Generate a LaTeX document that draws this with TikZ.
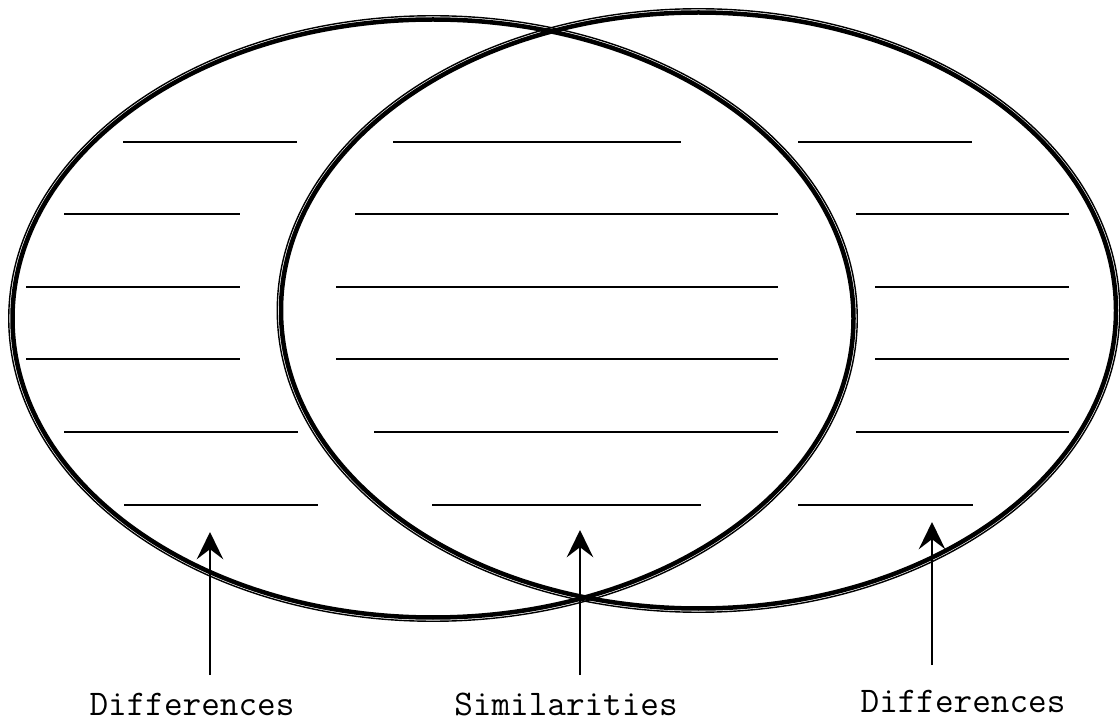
\documentclass[tikz,border=0pt]{standalone}
\usepackage{fontspec}
\usepackage{tikz}
\usetikzlibrary{arrows.meta}

\begin{document}
\begin{tikzpicture}[x=0.025cm,y=-0.025cm,>={Stealth[length=0.68cm,width=0.66cm,inset=0.25cm]},
  every node/.style={font=\ttfamily\fontsize{25.7}{30}\selectfont,inner sep=0pt,anchor=base},
  rimthin/.style={line width=1pt},
  rimthick/.style={line width=3.2pt},
  blank/.style={line width=1.4pt},
  pointer/.style={->,line width=1.7pt}]
  \useasboundingbox (0,0) rectangle (1120,721);
  % left set
  \draw[rimthin] (433,318.5) ellipse [x radius=424.25, y radius=302.75];
  \draw[rimthick] (433,318.5) ellipse [x radius=420.5, y radius=299];
  % right set
  \draw[rimthin] (698.5,310.5) ellipse [x radius=421.25, y radius=301.75];
  \draw[rimthick] (698.5,310.5) ellipse [x radius=417.5, y radius=298];
  % blanks to write on
  \foreach \y/\a/\b in {142/123/297, 214/64/240, 287/26/240, 359/26/240, 432/64/298, 505/124/318,
                        142/393/681, 214/355/778, 287/336/778, 359/336/778, 432/374/778, 505/432/701,
                        142/798/972, 214/856/1069, 287/875/1069, 359/875/1069, 432/856/1069, 505/798/973}
    \draw[blank] (\a,\y) -- (\b,\y);
  \node (difl) at (192,715) {Differences};
  \node (sim) at (566,715) {Similarities};
  \node (difr) at (963,712) {Differences};
  \coordinate (footl) at (210,675); \coordinate (headl) at (210,532);
  \coordinate (footm) at (580,675); \coordinate (headm) at (580,530);
  \coordinate (footr) at (932,665); \coordinate (headr) at (932,522);
  \draw[pointer] (footl) -- (headl);
  \draw[pointer] (footm) -- (headm);
  \draw[pointer] (footr) -- (headr);
\end{tikzpicture}
\end{document}
